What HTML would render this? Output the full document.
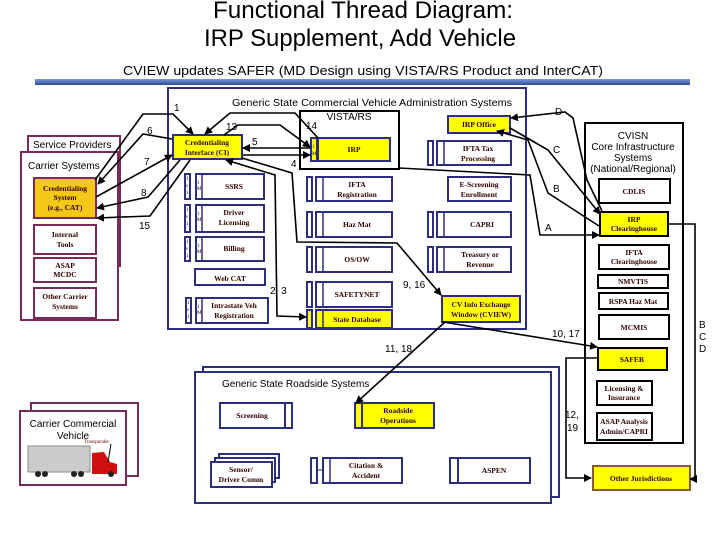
<!DOCTYPE html>
<html><head><meta charset="utf-8"><style>
html,body{margin:0;padding:0;background:#fff;width:720px;height:540px;overflow:hidden}
svg{display:block}
.s{font-family:"Liberation Serif",serif;font-weight:bold;font-size:7.5px;fill:#300}
.a{font-family:"Liberation Sans",sans-serif;font-size:10px;fill:#000}
.b{fill:#fff;stroke:#2e2e80;stroke-width:2}
.y{fill:#ffff00;stroke:#2e2e80;stroke-width:2}
.k{fill:#fff;stroke:#000;stroke-width:2}
.ky{fill:#ffff00;stroke:#000;stroke-width:2}
.p{fill:#fff;stroke:#7a2a5a;stroke-width:2}
.l{fill:none;stroke:#000;stroke-width:1.6;marker-end:url(#ar)}
.t{font-family:"Liberation Serif",serif;font-size:5px;fill:#000}
.m{stroke:#2e2e80;stroke-width:1.5}
</style></head><body>
<svg width="720" height="540" viewBox="0 0 720 540" xmlns="http://www.w3.org/2000/svg">
<defs>
<marker id="ar" markerWidth="8" markerHeight="8" refX="7" refY="4" orient="auto" markerUnits="userSpaceOnUse"><path d="M0,0 L8,4 L0,8z" fill="#000"/></marker>
<marker id="as" markerWidth="8" markerHeight="8" refX="1" refY="4" orient="auto" markerUnits="userSpaceOnUse"><path d="M8,0 L0,4 L8,8z" fill="#000"/></marker>
<linearGradient id="g" x1="0" y1="0" x2="0" y2="1"><stop offset="0" stop-color="#7a9ad8"/><stop offset="1" stop-color="#2e4a9a"/></linearGradient>
</defs>
<text x="363" y="18" text-anchor="middle" font-family="Liberation Sans" font-size="24" textLength="300" lengthAdjust="spacingAndGlyphs">Functional Thread Diagram:</text>
<text x="360" y="46" text-anchor="middle" font-family="Liberation Sans" font-size="24" textLength="312" lengthAdjust="spacingAndGlyphs">IRP Supplement, Add Vehicle</text>
<text x="363" y="75" text-anchor="middle" font-family="Liberation Sans" font-size="13" textLength="480" lengthAdjust="spacingAndGlyphs">CVIEW updates SAFER (MD Design using VISTA/RS Product and InterCAT)</text>
<rect x="35" y="79" width="655" height="6" fill="url(#g)"/>

<rect x="168" y="88" width="358" height="241" fill="#fff" stroke="#2e2e80" stroke-width="2"/>
<text x="372" y="106" text-anchor="middle" class="a" textLength="280" lengthAdjust="spacingAndGlyphs">Generic State Commercial Vehicle Administration Systems</text>
<rect x="300" y="111" width="99" height="58" fill="#fff" stroke="#000" stroke-width="2"/>
<text x="349" y="120" text-anchor="middle" class="a">VISTA/RS</text>
<rect x="311" y="138" width="6" height="23" class="y" stroke-width="1"/>
<rect x="318" y="138" width="72" height="23" class="y"/><text x="354" y="152" text-anchor="middle" class="s">IRP</text>
<rect x="448" y="116" width="62" height="17" class="y"/><text x="479" y="127" text-anchor="middle" class="s">IRP Office</text>

<rect x="428" y="141" width="5" height="24" class="b" stroke-width="1"/><rect x="437" y="141" width="74" height="24" class="b"/><line class="m" x1="444" y1="141" x2="444" y2="165"/><text x="478" y="151" text-anchor="middle" class="s">IFTA Tax</text><text x="478" y="161" text-anchor="middle" class="s">Processing</text>
<rect x="448" y="177" width="63" height="24" class="b"/><text x="479" y="187" text-anchor="middle" class="s">E-Screening</text><text x="479" y="197" text-anchor="middle" class="s">Enrollment</text>
<rect x="428" y="212" width="5" height="25" class="b" stroke-width="1"/><rect x="437" y="212" width="74" height="25" class="b"/><line class="m" x1="444" y1="212" x2="444" y2="237"/><text x="482" y="227" text-anchor="middle" class="s">CAPRI</text>
<rect x="428" y="247" width="5" height="25" class="b" stroke-width="1"/><rect x="437" y="247" width="74" height="25" class="b"/><line class="m" x1="444" y1="247" x2="444" y2="272"/><text x="480" y="257" text-anchor="middle" class="s">Treasury or</text><text x="480" y="267" text-anchor="middle" class="s">Revenue</text>
<rect x="442" y="296" width="78" height="26" class="y"/><text x="481" y="307" text-anchor="middle" class="s">CV Info Exchange</text><text x="481" y="317" text-anchor="middle" class="s">Window (CVIEW)</text>

<rect x="307" y="177" width="5" height="24" class="b" stroke-width="1"/><rect x="316" y="177" width="76" height="24" class="b"/><line class="m" x1="323" y1="177" x2="323" y2="201"/><text x="357" y="187" text-anchor="middle" class="s">IFTA</text><text x="357" y="197" text-anchor="middle" class="s">Registration</text>
<rect x="307" y="212" width="5" height="25" class="b" stroke-width="1"/><rect x="316" y="212" width="76" height="25" class="b"/><line class="m" x1="323" y1="212" x2="323" y2="237"/><text x="357" y="227" text-anchor="middle" class="s">Haz Mat</text>
<rect x="307" y="247" width="5" height="25" class="b" stroke-width="1"/><rect x="316" y="247" width="76" height="25" class="b"/><line class="m" x1="323" y1="247" x2="323" y2="272"/><text x="357" y="262" text-anchor="middle" class="s">OS/OW</text>
<rect x="307" y="282" width="5" height="25" class="b" stroke-width="1"/><rect x="316" y="282" width="76" height="25" class="b"/><line class="m" x1="323" y1="282" x2="323" y2="307"/><text x="357" y="297" text-anchor="middle" class="s">SAFETYNET</text>
<rect x="307" y="310" width="5" height="18" class="y" stroke-width="1"/><rect x="316" y="310" width="76" height="18" class="y"/><line class="m" x1="323" y1="310" x2="323" y2="328"/><text x="357" y="322" text-anchor="middle" class="s">State Database</text>

<rect x="173" y="135" width="69" height="24" class="y"/><text x="207" y="145" text-anchor="middle" class="s">Credentialing</text><text x="207" y="155" text-anchor="middle" class="s">Interface (CI)</text>
<rect x="185" y="174" width="5" height="25" class="b" stroke-width="1"/><rect x="196" y="174" width="68" height="25" class="b"/><line class="m" x1="202" y1="174" x2="202" y2="199"/><text x="234" y="189" text-anchor="middle" class="s">SSRS</text>
<rect x="185" y="205" width="5" height="27" class="b" stroke-width="1"/><rect x="196" y="205" width="68" height="27" class="b"/><line class="m" x1="202" y1="205" x2="202" y2="232"/><text x="234" y="215" text-anchor="middle" class="s">Driver</text><text x="234" y="225" text-anchor="middle" class="s">Licensing</text>
<rect x="185" y="237" width="5" height="24" class="b" stroke-width="1"/><rect x="196" y="237" width="68" height="24" class="b"/><line class="m" x1="202" y1="237" x2="202" y2="261"/><text x="234" y="251" text-anchor="middle" class="s">Billing</text>
<rect x="195" y="269" width="70" height="16" class="b"/><text x="230" y="281" text-anchor="middle" class="s">Web CAT</text>
<rect x="186" y="298" width="5" height="25" class="b" stroke-width="1"/><rect x="196" y="298" width="72" height="25" class="b"/><line class="m" x1="202" y1="298" x2="202" y2="323"/><text x="234" y="308" text-anchor="middle" class="s">Intrastate Veh</text><text x="234" y="318" text-anchor="middle" class="s">Registration</text>

<rect x="28" y="136" width="92" height="130" class="p"/>
<text x="33" y="148" class="a">Service Providers</text>
<rect x="21" y="152" width="97" height="168" class="p"/>
<text x="28" y="169" class="a">Carrier Systems</text>
<rect x="34" y="178" width="62" height="40" fill="#f4c816" stroke="#7a2a5a" stroke-width="2"/>
<text x="65" y="191" text-anchor="middle" class="s">Credentialing</text><text x="65" y="200" text-anchor="middle" class="s">System</text><text x="65" y="210" text-anchor="middle" class="s">(e.g., CAT)</text>
<rect x="34" y="225" width="62" height="29" class="p"/><text x="65" y="237" text-anchor="middle" class="s">Internal</text><text x="65" y="247" text-anchor="middle" class="s">Tools</text>
<rect x="34" y="258" width="62" height="24" class="p"/><text x="65" y="268" text-anchor="middle" class="s">ASAP</text><text x="65" y="277" text-anchor="middle" class="s">MCDC</text>
<rect x="34" y="288" width="62" height="30" class="p"/><text x="65" y="299" text-anchor="middle" class="s">Other Carrier</text><text x="65" y="309" text-anchor="middle" class="s">Systems</text>

<rect x="585" y="123" width="98" height="320" class="k"/>
<text x="633" y="139" text-anchor="middle" class="a">CVISN</text>
<text x="633" y="150" text-anchor="middle" class="a">Core Infrastructure</text>
<text x="633" y="161" text-anchor="middle" class="a">Systems</text>
<text x="633" y="172" text-anchor="middle" class="a">(National/Regional)</text>
<rect x="599" y="179" width="71" height="24" class="k"/><text x="634" y="194" text-anchor="middle" class="s">CDLIS</text>
<rect x="600" y="212" width="68" height="24" class="ky"/><text x="634" y="222" text-anchor="middle" class="s">IRP</text><text x="634" y="231" text-anchor="middle" class="s">Clearinghouse</text>
<rect x="599" y="245" width="70" height="24" class="k"/><text x="634" y="255" text-anchor="middle" class="s">IFTA</text><text x="634" y="264" text-anchor="middle" class="s">Clearinghouse</text>
<rect x="598" y="275" width="70" height="13" class="k"/><text x="633" y="284" text-anchor="middle" class="s">NMVTIS</text>
<rect x="599" y="293" width="69" height="16" class="k"/><text x="633" y="304" text-anchor="middle" class="s">RSPA Haz Mat</text>
<rect x="599" y="315" width="70" height="24" class="k"/><text x="634" y="330" text-anchor="middle" class="s">MCMIS</text>
<rect x="598" y="348" width="69" height="22" class="ky"/><text x="632" y="362" text-anchor="middle" class="s">SAFER</text>
<rect x="597" y="381" width="55" height="24" class="k"/><text x="624" y="391" text-anchor="middle" class="s">Licensing &amp;</text><text x="624" y="400" text-anchor="middle" class="s">Insurance</text>
<rect x="597" y="413" width="55" height="27" class="k"/><text x="624" y="424" text-anchor="middle" class="s">ASAP Analysis</text><text x="624" y="434" text-anchor="middle" class="s">Admin/CAPRI</text>
<rect x="593" y="466" width="97" height="24" fill="#ffff00" stroke="#8a5a2a" stroke-width="2"/><text x="641" y="481" text-anchor="middle" class="s">Other Jurisdictions</text>

<rect x="203" y="367" width="356" height="130" class="b"/>
<rect x="195" y="372" width="356" height="131" class="b"/>
<text x="222" y="387" class="a">Generic State Roadside Systems</text>
<rect x="220" y="403" width="65" height="25" class="b"/><rect x="285" y="403" width="7" height="25" class="b" stroke-width="1"/><text x="252" y="418" text-anchor="middle" class="s">Screening</text>
<rect x="355" y="403" width="7" height="25" class="y" stroke-width="1"/><rect x="362" y="403" width="72" height="25" class="y"/><text x="398" y="413" text-anchor="middle" class="s">Roadside</text><text x="398" y="423" text-anchor="middle" class="s">Operations</text>
<rect x="219" y="454" width="60" height="24" class="b"/><rect x="215" y="458" width="60" height="24" class="b"/><rect x="211" y="462" width="61" height="25" class="b"/><text x="241" y="472" text-anchor="middle" class="s">Sensor/</text><text x="241" y="482" text-anchor="middle" class="s">Driver Comm</text>
<rect x="311" y="458" width="6" height="25" class="b" stroke-width="1"/><line x1="317" y1="470" x2="323" y2="470" stroke="#2e2e80"/><rect x="323" y="458" width="79" height="25" class="b"/><line class="m" x1="330" y1="458" x2="330" y2="483"/><text x="366" y="468" text-anchor="middle" class="s">Citation &amp;</text><text x="366" y="478" text-anchor="middle" class="s">Accident</text>
<rect x="450" y="458" width="8" height="25" class="b" stroke-width="1"/><rect x="458" y="458" width="72" height="25" class="b"/><text x="494" y="473" text-anchor="middle" class="s">ASPEN</text>

<rect x="31" y="403" width="107" height="73" class="p"/>
<rect x="20" y="411" width="106" height="74" class="p"/>
<text x="73" y="427" text-anchor="middle" class="a">Carrier Commercial</text>
<text x="73" y="439" text-anchor="middle" class="a">Vehicle</text>
<text x="84" y="443" font-family="Liberation Serif" font-size="5" fill="#600">Transponder</text>
<rect x="28" y="446" width="62" height="26" fill="#ccc" stroke="#888"/>
<path d="M92,472 L92,453 L104,452 L110,462 L117,464 L117,474 L92,474z" fill="#d01010"/>
<circle cx="38" cy="474" r="3" fill="#222"/><circle cx="45" cy="474" r="3" fill="#222"/><circle cx="74" cy="474" r="3" fill="#222"/><circle cx="81" cy="474" r="3" fill="#222"/><circle cx="111" cy="474" r="3" fill="#222"/>
<line x1="108" y1="462" x2="111" y2="444" stroke="#000"/>

<g class="t">
<text x="186" y="180">1</text><text x="186" y="187">s</text><text x="186" y="194">1</text>
<text x="186" y="211">1</text><text x="186" y="218">s</text><text x="186" y="225">1</text>
<text x="186" y="243">1</text><text x="186" y="250">s</text><text x="186" y="257">1</text>
<text x="187" y="304">1</text><text x="187" y="311">s</text><text x="187" y="318">1</text>
<text x="197" y="184">1</text><text x="197" y="190">M</text><text x="197" y="215">1</text><text x="197" y="221">M</text><text x="197" y="247">1</text><text x="197" y="253">M</text><text x="197" y="308">1</text><text x="197" y="314">M</text>
<text x="312" y="148">1</text><text x="312" y="155">M</text>
</g>

<g fill="none" stroke="#000" stroke-width="1.6">
<path class="l" d="M95,180 L143,114 L173,114 L193,134"/>
<path class="l" d="M172,139 L143,134 L98,184"/>
<path class="l" d="M96,197 L172,155"/>
<path class="l" d="M180,160 L148,197 L97,208"/>
<path class="l" d="M190,160 L150,216 L97,218"/>
<path class="l" d="M224,135 L238,125 L280,125 L310,147"/>
<path class="l" d="M318,138 L295,113 L230,113 L205,134"/>
<path class="l" d="M310,148 L243,148"/>
<path class="l" d="M243,155 L310,155"/>
<path class="l" d="M242,158 L292,173 L297,242 L397,243 L441,295"/>
<path class="l" style="marker-start:url(#as)" d="M226,160 L275,175 L277,316 L306,317"/>
<path class="l" d="M399,168 L530,175 L540,235 L599,235"/>
<path class="l" d="M599,226 L548,193 L528,140 L497,131"/>
<path class="l" d="M510,128 L548,150 L600,214"/>
<path class="l" d="M602,211 L587,180 L573,118 L565,112 L511,118"/>
<path class="l" d="M443,322 L597,347"/>
<path class="l" d="M445,322 L356,403"/>
<path class="l" d="M668,224 L695,224 L695,479 L690,479"/>
<path class="l" d="M598,358 L566,358 L566,478 L591,478"/>
</g>
<g class="a">
<text x="174" y="111">1</text><text x="147" y="134">6</text><text x="144" y="165">7</text><text x="141" y="196">8</text><text x="139" y="229">15</text>
<text x="226" y="130">13</text><text x="306" y="129">14</text><text x="252" y="145">5</text><text x="291" y="167">4</text>
<text x="270" y="294">2, 3</text><text x="403" y="288">9, 16</text>
<text x="555" y="115">D</text><text x="553" y="153">C</text><text x="553" y="192">B</text><text x="545" y="231">A</text>
<text x="552" y="337">10, 17</text><text x="385" y="352">11, 18</text>
<text x="565" y="418">12,</text><text x="567" y="431">19</text>
<text x="699" y="328">B</text><text x="699" y="340">C</text><text x="699" y="352">D</text>
</g>
</svg>
</body></html>
